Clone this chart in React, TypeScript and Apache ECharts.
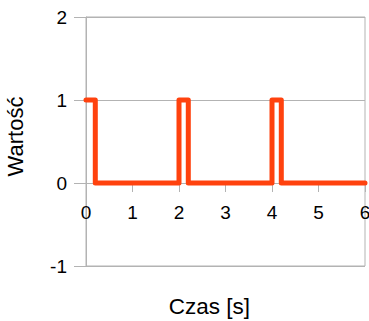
import React, { useEffect, useRef } from "react";
import * as echarts from "echarts";

const timeS: number[] = [0, 0.2, 0.2, 2.0, 2.0, 2.2, 2.2, 4.0, 4.0, 4.2, 4.2, 6.0];
const values: number[] = [1, 1, 0, 0, 1, 1, 0, 0, 1, 1, 0, 0];
const xTicks = { min: 0, max: 6, interval: 1 };
const yTicks = { min: -1, max: 2, interval: 1 };
const xTitle = "Czas [s]";
const yTitle = "Wartość";

export default function App() {
  const ref = useRef<HTMLDivElement>(null);
  useEffect(() => {
    if (!ref.current) return;
    const chart = echarts.init(ref.current, undefined, { renderer: "svg" });
    const font = "'Liberation Sans', Arial, sans-serif";
    const gray = "#b3b3b3";
    const gridTop = 17;
    const gridBottom = 55;
    const plotH = 321 - gridTop - gridBottom;
    // shift x axis up to y = 0 of the value axis
    const zeroOffset = -plotH * ((0 - yTicks.min) / (yTicks.max - yTicks.min));
    chart.setOption({
      animation: false,
      backgroundColor: "#ffffff",
      grid: {
        left: 86,
        right: 4,
        top: gridTop,
        bottom: gridBottom,
        show: true,
        borderColor: gray,
        borderWidth: 1,
        containLabel: false,
        outerBoundsMode: "none",
      },
      xAxis: {
        type: "value",
        position: "bottom",
        offset: zeroOffset,
        min: xTicks.min,
        max: xTicks.max,
        interval: xTicks.interval,
        name: xTitle,
        nameLocation: "middle",
        nameGap: 112,
        nameTextStyle: { fontFamily: font, fontSize: 22.5, color: "#000", padding: [0, 32, 0, 0] },
        axisLine: { show: true, onZero: false, lineStyle: { color: gray, width: 1 } },
        axisTick: { show: true, length: 9, lineStyle: { color: gray } },
        axisLabel: { margin: 20, fontFamily: font, fontSize: 19, color: "#000" },
        splitLine: { show: false },
      },
      yAxis: {
        type: "value",
        min: yTicks.min,
        max: yTicks.max,
        interval: yTicks.interval,
        name: yTitle,
        nameLocation: "middle",
        nameGap: 60,
        nameTextStyle: { fontFamily: font, fontSize: 22, color: "#000", padding: [0, 0, 0, 10] },
        axisLine: { show: true, onZero: false, lineStyle: { color: gray, width: 1 } },
        axisTick: { show: true, length: 12, lineStyle: { color: gray } },
        axisLabel: { margin: 19, fontFamily: font, fontSize: 19, color: "#000" },
        splitLine: { show: true, lineStyle: { color: gray, width: 1 } },
      },
      series: [
        {
          type: "line",
          data: timeS.map((t, i) => [t, values[i]]),
          showSymbol: false,
          symbol: "none",
          lineStyle: { color: "#ff420e", width: 5, join: "round", cap: "round" },
          itemStyle: { color: "#ff420e" },
          clip: false,
          z: 3,
        },
      ],
    });
    return () => chart.dispose();
  }, []);
  return (
    <div
      ref={ref}
      style={{ position: "fixed", left: 0, top: 0, width: 369, height: 321 }}
    />
  );
}
